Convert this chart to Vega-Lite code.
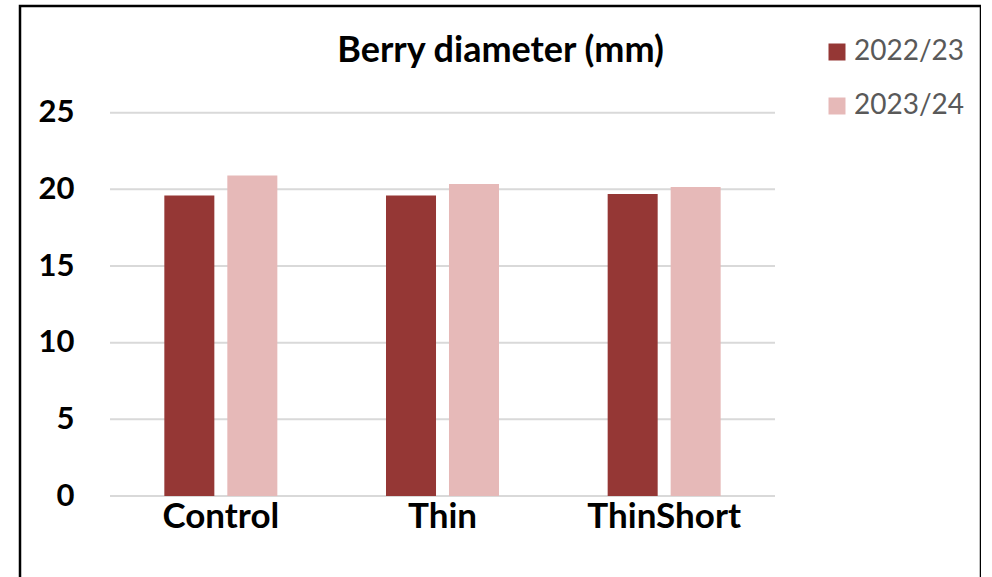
{
  "$schema": "https://vega.github.io/schema/vega-lite/v6.json",
  "width": 961,
  "height": 580,
  "padding": {"left": 20, "top": 6, "right": 0, "bottom": 0},
  "background": "white",
  "config": {"view": {"stroke": "black", "strokeWidth": 2.5}, "font": "Lato"},
  "title": {"text": "Berry diameter (mm)", "fontSize": 36, "fontWeight": "bold", "color": "black", "anchor": "middle", "frame": "group", "offset": -64, "font": "Lato"},
  "datasets": {
    "bars": [
      {"treatment": "Control", "season": "2022/23", "value": 19.6},
      {"treatment": "Control", "season": "2023/24", "value": 20.9},
      {"treatment": "Thin", "season": "2022/23", "value": 19.6},
      {"treatment": "Thin", "season": "2023/24", "value": 20.35},
      {"treatment": "ThinShort", "season": "2022/23", "value": 19.7},
      {"treatment": "ThinShort", "season": "2023/24", "value": 20.15}
    ],
    "grid": [{"g": 0}, {"g": 5}, {"g": 10}, {"g": 15}, {"g": 20}, {"g": 25}]
  },
  "layer": [
    {
      "data": {"name": "grid"},
      "mark": {"type": "rule", "color": "#d9d9d9", "strokeWidth": 2},
      "encoding": {
        "y": {"field": "g", "type": "quantitative",
          "scale": {"domain": [0, 25], "range": [490, 106.7], "nice": false},
          "axis": {"orient": "left", "offset": -56, "values": [0, 5, 10, 15, 20, 25], "domain": false, "ticks": false, "tickSize": 0, "grid": false, "labelPadding": 2, "labelFontSize": 31, "labelFontWeight": "bold", "labelColor": "black", "labelFont": "Lato", "title": null}},
        "x": {"datum": 0, "type": "quantitative", "scale": {"domain": [0, 1], "range": [90, 755]}, "axis": null},
        "x2": {"datum": 1}
      }
    },
    {
      "data": {"name": "bars"},
      "mark": {"type": "bar"},
      "encoding": {
        "x": {"field": "treatment", "type": "nominal", "sort": ["Control", "Thin", "ThinShort"],
          "scale": {"range": [90, 755], "paddingInner": 0, "paddingOuter": 0},
          "axis": {"orient": "bottom", "offset": -90, "domain": false, "ticks": false, "tickSize": 0, "grid": false, "labelAngle": 0, "labelBaseline": "alphabetic", "labelPadding": 31, "labelFontSize": 35, "labelFontWeight": "bold", "labelColor": "black", "labelFont": "Lato", "title": null}},
        "xOffset": {"field": "season", "type": "nominal", "scale": {"paddingInner": 0.206, "paddingOuter": 0.8625}},
        "y": {"field": "value", "type": "quantitative"},
        "color": {"field": "season", "type": "nominal",
          "scale": {"domain": ["2022/23", "2023/24"], "range": ["#953735", "#E6B9B8"]},
          "legend": {"orient": "none", "legendX": 803, "legendY": 32, "direction": "vertical", "title": null, "symbolType": "square", "symbolSize": 289, "symbolStrokeWidth": 0, "labelFontSize": 28, "labelColor": "#595959", "labelFont": "Lato", "rowPadding": 26, "labelOffset": 3}}
      }
    }
  ],
  "resolve": {"scale": {"x": "independent"}}
}
